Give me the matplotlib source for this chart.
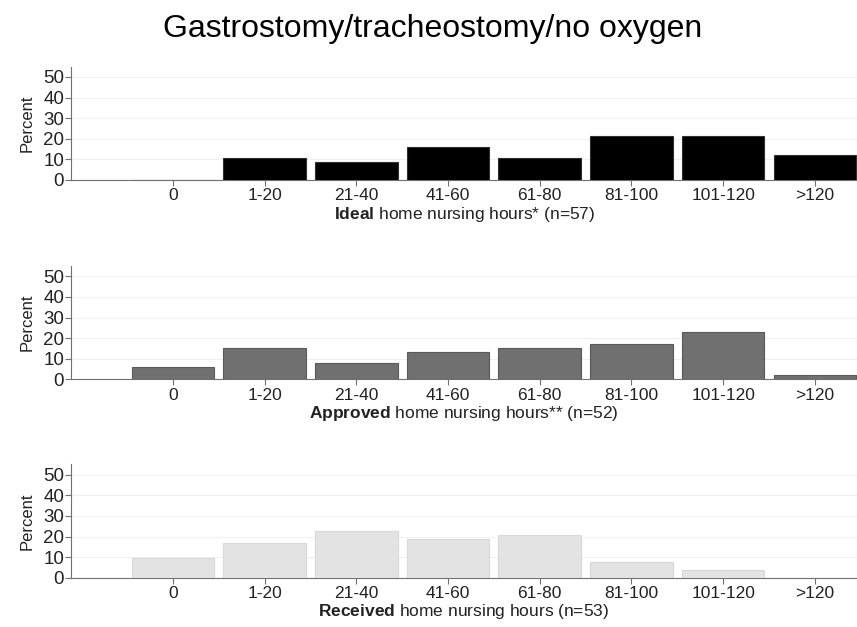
import matplotlib.pyplot as plt
import numpy as np

plt.rcParams['font.family'] = ['Liberation Sans', 'DejaVu Sans']
plt.rcParams['mathtext.fontset'] = 'custom'
plt.rcParams['mathtext.rm'] = 'Liberation Sans'
plt.rcParams['mathtext.bf'] = 'Liberation Sans:bold'

categories = ['0', '1-20', '21-40', '41-60', '61-80', '81-100', '101-120', '>120']

# percent of children in each hours band
ideal = [0.0, 10.5, 8.8, 15.8, 10.5, 21.1, 21.1, 12.3]
approved = [5.8, 15.4, 7.7, 13.5, 15.4, 17.3, 23.1, 1.9]
received = [9.4, 17.0, 22.6, 18.9, 20.8, 7.5, 3.8, 0.0]

panels = [
    (ideal, '#000000', '#303030', r'$\bf{Ideal}$ home nursing hours* (n=57)'),
    (approved, '#707070', '#5a5a5a', r'$\bf{Approved}$ home nursing hours** (n=52)'),
    (received, '#e3e3e3', '#d8d8d8', r'$\bf{Received}$ home nursing hours (n=53)'),
]

fig = plt.figure(figsize=(8.57, 6.27), dpi=100)
fig.text(0.505, 0.953, 'Gastrostomy/tracheostomy/no oxygen', ha='center', va='center', fontsize=23)

bottoms = [0.713, 0.395, 0.0786]
x = np.arange(len(categories))

for (vals, fc, ec, lab), b in zip(panels, bottoms):
    ax = fig.add_axes([0.083, b, 0.917, 0.1807])
    ax.bar(x, vals, width=0.9, color=fc, edgecolor=ec, linewidth=0.8, zorder=3)
    ax.set_xlim(-1.11, 7.46)
    ax.set_ylim(0, 55)
    ax.set_yticks([0, 10, 20, 30, 40, 50])
    ax.set_xticks(x)
    ax.set_xticklabels(categories)
    ax.yaxis.grid(True, color='#f0f0f0', linewidth=0.8, zorder=0)
    ax.set_axisbelow(True)
    for s in ['top', 'right']:
        ax.spines[s].set_visible(False)
    ax.spines['left'].set_color('#707070')
    ax.spines['bottom'].set_color('#707070')
    ax.tick_params(axis='both', colors='#707070', labelcolor='#222222', length=4, pad=2)
    ax.tick_params(axis='x', labelsize=12.5)
    ax.tick_params(axis='y', labelsize=13.5, pad=1)
    ax.set_ylabel('Percent', fontsize=12, color='#222222', labelpad=6)
    ax.set_xlabel(lab, fontsize=12.5, color='#222222', labelpad=1)

fig.savefig('out.png', dpi=100)
